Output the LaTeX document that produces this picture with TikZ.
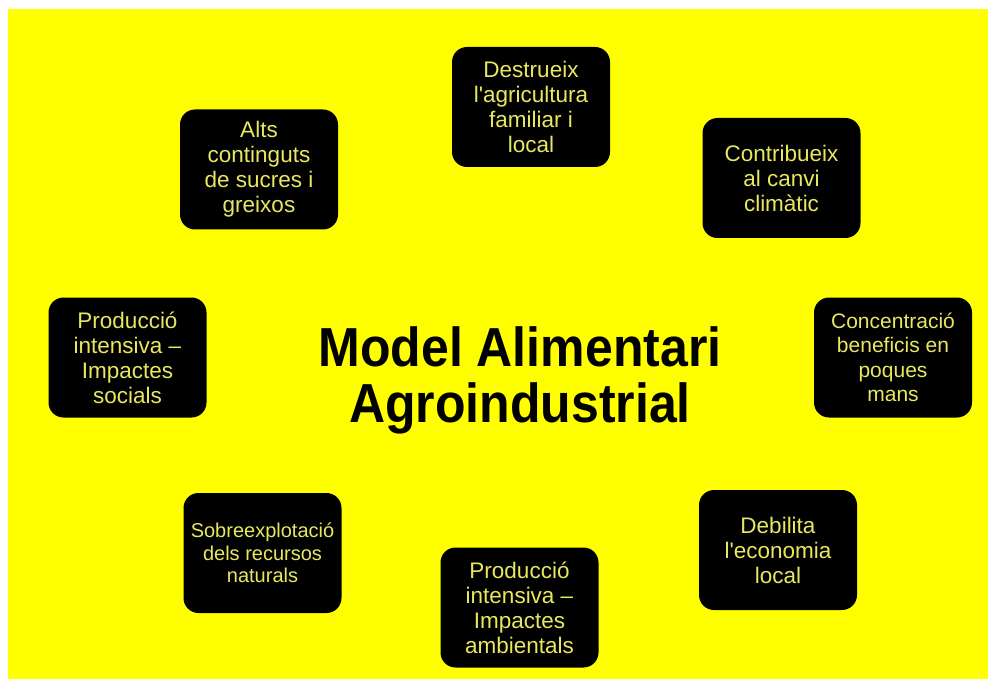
\documentclass[tikz,border=0pt]{standalone}
\usepackage{fontspec}
\setmainfont{Liberation Sans}
\definecolor{bgyellow}{RGB}{255,255,0}
\definecolor{txtyellow}{RGB}{232,232,96}
\tikzset{
  box/.style={fill=black, rounded corners=15pt, minimum width=158pt, minimum height=120pt,
    inner sep=0pt, text=txtyellow, align=center, font=\fontsize{22.5}{25}\selectfont},
  title/.style={inner sep=0pt, font=\fontsize{50}{51}\selectfont\bfseries, text=black}
}
\begin{document}
\begin{tikzpicture}[x=1pt,y=-1pt]
\useasboundingbox (0,0) rectangle (988,679);
\fill[white] (0,0) rectangle (988,679);
\fill[bgyellow] (8,9) rectangle (988,679);
\node[title] (t) at (520,383) {\scalebox{1}[1.1]{\begin{tabular}{@{}c@{}}Model Alimentari\\Agroindustrial\end{tabular}}};
\node[box] (b1) at (259,169.5) {Alts\\continguts\\de sucres i\\greixos};
\node[box] (b2) at (531,107) {Destrueix\\l\textquotesingle agricultura\\familiar i\\local};
\node[box] (b3) at (781.5,178) {Contribueix\\al canvi\\climàtic};
\node[box, font=\fontsize{21}{24.5}\selectfont] (b4) at (893,357.5) {Concentració\\beneficis en\\poques\\mans};
\node[box] (b5) at (778,550) {Debilita\\l\textquotesingle economia\\local};
\node[box] (b6) at (519.5,607.5) {Producció\\intensiva –\\Impactes\\ambientals};
\node[box, font=\fontsize{20}{22.5}\selectfont] (b7) at (262.5,553) {Sobreexplotació\\dels recursos\\naturals};
\node[box] (b8) at (127.5,357.5) {Producció\\intensiva –\\Impactes\\socials};
\end{tikzpicture}
\end{document}
